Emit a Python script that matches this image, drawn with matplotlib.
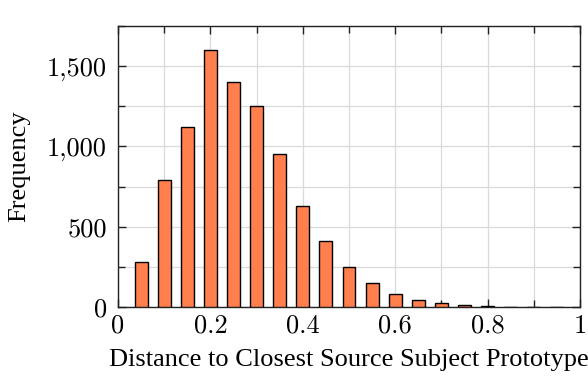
import matplotlib
matplotlib.use("Agg")
import matplotlib.pyplot as plt
from matplotlib.ticker import MultipleLocator, FuncFormatter

# histogram bins (centres) and counts
bin_centers = [0.05, 0.10, 0.15, 0.20, 0.25, 0.30, 0.35, 0.40, 0.45, 0.50,
               0.55, 0.60, 0.65, 0.70, 0.75, 0.80, 0.85, 0.90, 0.95]
counts = [280, 790, 1120, 1600, 1400, 1250, 950, 630, 410, 250,
          150, 80, 42, 28, 12, 6, 3, 2, 1]

plt.rcParams['font.family'] = 'serif'
plt.rcParams['font.serif'] = ['cmr10']
plt.rcParams['mathtext.fontset'] = 'cm'
plt.rcParams['axes.unicode_minus'] = False

fig = plt.figure(figsize=(5.88, 3.76), dpi=100)
ax = fig.add_axes([0.2007, 0.1835, 0.7857, 0.7474])

ax.bar(bin_centers, counts, width=0.028, color='#ff7f4f', edgecolor='black',
       linewidth=1.0, zorder=3)

ax.set_xlim(0, 1)
ax.set_ylim(0, 1750)
ax.xaxis.set_major_locator(MultipleLocator(0.2))
ax.xaxis.set_minor_locator(MultipleLocator(0.1))
ax.yaxis.set_major_locator(MultipleLocator(500))
ax.yaxis.set_minor_locator(MultipleLocator(250))

def xfmt(v, pos):
    if abs(v) < 1e-9:
        return '0'
    if abs(v - 1) < 1e-9:
        return '1'
    return '%.1f' % v

def yfmt(v, pos):
    return '{:,}'.format(int(round(v)))

ax.xaxis.set_major_formatter(FuncFormatter(xfmt))
ax.yaxis.set_major_formatter(FuncFormatter(yfmt))

ax.grid(True, which='both', color='#d9d9d9', linewidth=0.9, zorder=0)
ax.set_axisbelow(True)
ax.tick_params(which='both', direction='in', top=True, right=True,
               labelsize=19, width=1.0, color='#222222')
ax.tick_params(which='major', length=6)
ax.tick_params(which='minor', length=5)
ax.tick_params(axis='x', pad=5)
ax.tick_params(axis='y', pad=8)
for s in ax.spines.values():
    s.set_linewidth(1.0)
    s.set_color('#222222')

label_font = {'family': 'Liberation Serif', 'size': 19}
ax.set_xlabel('Distance to Closest Source Subject Prototype', fontdict=label_font, labelpad=8)
ax.set_ylabel('Frequency', fontdict=label_font, labelpad=12)

fig.savefig('out.png', dpi=100)
